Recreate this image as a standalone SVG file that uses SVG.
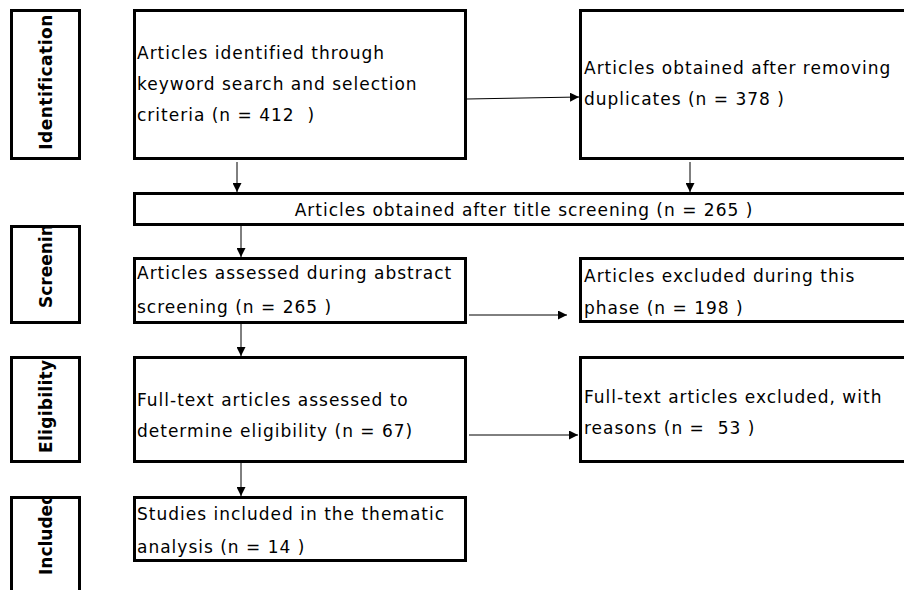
<svg xmlns="http://www.w3.org/2000/svg" width="904" height="590" viewBox="0 0 904 590">
<style>
.box{fill:#fff;stroke:#000;stroke-width:3}
.t{font-family:"DejaVu Sans",Verdana,sans-serif;font-size:17px;letter-spacing:1px;fill:#000;white-space:pre}
.lab{font-family:"DejaVu Sans",Verdana,sans-serif;font-size:17px;font-weight:bold;fill:#000}
.con{stroke:#000;stroke-width:1;fill:none;marker-end:url(#ah)}
</style>
<defs>
<marker id="ah" viewBox="0 0 10 10" refX="10" refY="5" markerWidth="9" markerHeight="9" markerUnits="userSpaceOnUse" orient="auto">
<path d="M0,0 L10,5 L0,10 Z" fill="#000"/>
</marker>
<clipPath id="cId"><rect x="11" y="11" width="69" height="148"/></clipPath>
<clipPath id="cSc"><rect x="11" y="227" width="69" height="96"/></clipPath>
<clipPath id="cEl"><rect x="11" y="358" width="69" height="104"/></clipPath>
<clipPath id="cIn"><rect x="11" y="498" width="69" height="100"/></clipPath>
</defs>
<rect width="904" height="590" fill="#fff"/>

<g id="stage-identification">
<rect class="box" x="11.5" y="10.5" width="68" height="148"/>
<g clip-path="url(#cId)"><text class="lab" transform="translate(52,82) rotate(-90)" text-anchor="middle" letter-spacing="0.5">Identification</text></g>
</g>
<g id="stage-screening">
<rect class="box" x="11.5" y="226.5" width="68" height="96"/>
<g clip-path="url(#cSc)"><text class="lab" transform="translate(52,308) rotate(-90)">Screening</text></g>
</g>
<g id="stage-eligibility">
<rect class="box" x="11.5" y="357.5" width="68" height="104"/>
<g clip-path="url(#cEl)"><text class="lab" transform="translate(52,453) rotate(-90)" letter-spacing="0.3">Eligibility</text></g>
</g>
<g id="stage-included">
<rect class="box" x="11.5" y="497.5" width="68" height="110"/>
<g clip-path="url(#cIn)"><text class="lab" transform="translate(52,575) rotate(-90)">Included</text></g>
</g>

<g id="identified">
<rect class="box" x="134.5" y="10.5" width="331" height="148"/>
<text class="t" x="137" y="59">Articles identified through</text>
<text class="t" x="137" y="90">keyword search and selection</text>
<text class="t" x="137" y="121">criteria (n = 412  )</text>
</g>
<g id="deduplicated">
<rect class="box" x="580.5" y="10.5" width="340" height="148"/>
<text class="t" x="584" y="74">Articles obtained after removing</text>
<text class="t" x="584" y="105">duplicates (n = 378 )</text>
</g>
<g id="title-screening">
<rect class="box" x="134.5" y="193.5" width="790" height="31"/>
<text class="t" x="524" y="216" text-anchor="middle">Articles obtained after title screening (n = 265 )</text>
</g>
<g id="abstract-screening">
<rect class="box" x="134.5" y="258.5" width="331" height="64"/>
<text class="t" x="137" y="279">Articles assessed during abstract</text>
<text class="t" x="137" y="313">screening (n = 265 )</text>
</g>
<g id="excluded-abstract">
<rect class="box" x="580.5" y="258.5" width="340" height="63"/>
<text class="t" x="584" y="282">Articles excluded during this</text>
<text class="t" x="584" y="314">phase (n = 198 )</text>
</g>
<g id="fulltext-assessed">
<rect class="box" x="134.5" y="357.5" width="331" height="104"/>
<text class="t" x="137" y="406">Full-text articles assessed to</text>
<text class="t" x="137" y="437">determine eligibility (n = 67)</text>
</g>
<g id="fulltext-excluded">
<rect class="box" x="580.5" y="357.5" width="340" height="104"/>
<text class="t" x="584" y="403">Full-text articles excluded, with</text>
<text class="t" x="584" y="434">reasons (n =  53 )</text>
</g>
<g id="included-studies">
<rect class="box" x="134.5" y="497.5" width="331" height="63"/>
<text class="t" x="137" y="520">Studies included in the thematic</text>
<text class="t" x="137" y="553">analysis (n = 14 )</text>
</g>

<g id="connectors">
<line class="con" x1="237" y1="162" x2="237" y2="192"/>
<line class="con" x1="690" y1="162" x2="690" y2="192"/>
<line class="con" x1="467" y1="99" x2="579" y2="97"/>
<line class="con" x1="241" y1="226" x2="241" y2="257"/>
<line class="con" x1="469" y1="315" x2="567" y2="315"/>
<line class="con" x1="241" y1="324" x2="241" y2="356"/>
<line class="con" x1="469" y1="435" x2="578" y2="435"/>
<line class="con" x1="241" y1="463" x2="241" y2="496"/>
</g>
</svg>
